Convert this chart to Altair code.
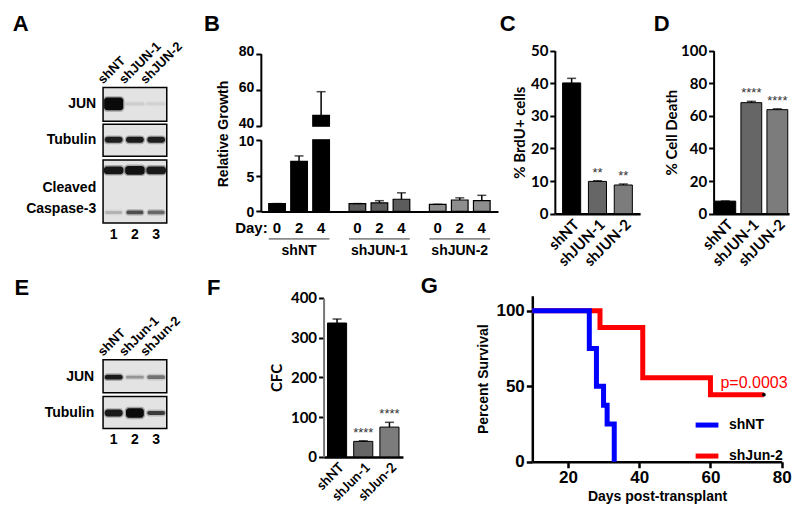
import altair as alt
import pandas as pd

W, H = 784, 498
SX, SY = W / 800.0, H / 514.0


def X(p):
    return round(p * SX, 2)


def Y(p):
    return round(p * SY, 2)


ARIAL = "Liberation Sans"
CALI = "Lato"

# ---------------- data ----------------
# Panel A: western blot, band intensities (0-1) per lane
lanes = [1, 2, 3]
a_lane_labels = ["shNT", "shJUN-1", "shJUN-2"]
a_jun = [1.0, 0.08, 0.06]
a_tubulin = [0.88, 0.9, 0.88]
a_caspase_full = [0.92, 0.96, 0.9]
a_caspase_cleaved = [0.18, 0.62, 0.5]

# Panel B: relative growth
b_groups = ["shNT", "shJUN-1", "shJUN-2"]
b_days = ["0", "2", "4"]
b_growth_shNT = [1.1, 7.0, 46.0]
b_growth_shJUN1 = [1.1, 1.2, 1.7]
b_growth_shJUN2 = [1.0, 1.6, 1.5]
b_err_shNT = [1.1, 7.75, 59.0]
b_err_shJUN1 = [1.1, 1.5, 2.6]
b_err_shJUN2 = [1.0, 1.9, 2.25]

# Panel C: % BrdU+ cells
c_groups = ["shNT", "shJUN-1", "shJUN-2"]
c_brdu = [40.1, 9.9, 8.8]
c_brdu_err = [41.5, 10.1, 9.1]
c_sig = ["", "**", "**"]

# Panel D: % cell death
d_groups = ["shNT", "shJUN-1", "shJUN-2"]
d_death = [7.7, 68.1, 63.8]
d_death_err = [7.8, 68.9, 64.3]
d_sig = ["", "****", "****"]

# Panel E: western blot
e_lane_labels = ["shNT", "shJun-1", "shJun-2"]
e_jun = [0.9, 0.3, 0.45]
e_tubulin = [0.9, 1.0, 0.72]

# Panel F: CFC
f_groups = ["shNT", "shJun-1", "shJun-2"]
f_cfc = [337, 39, 75]
f_cfc_err = [347, 40.5, 87]
f_sig = ["", "****", "****"]

# Panel G: Kaplan-Meier survival
g_groups = ["shNT", "shJun-2"]
g_shNT_days = [0, 26, 28, 30, 31, 33]
g_shNT_surv = [100, 75, 50, 37.5, 25, 0]
g_shJun2_days = [0, 29, 41, 60, 75]
g_shJun2_surv = [100, 88.9, 55.6, 44.4, 44.4]
g_censor_days = [75]
g_censor_surv = [44.4]
g_pvalue = "p=0.0003"

# ---------------- layout (reference pixel geometry) ----------------
BLOT_A = {
    "x": (97, 162), "y": (82, 222),
    "boxes": [(82, 117), (120, 153), (157, 222)],
    "row_labels": ["JUN", "Tubulin", "Cleaved\nCaspase-3"],
    "label_y": [99.5, 136.5, 186], "label_right": 90,
    "lane_label_y": 79, "lane_num_y": 234,
    "bands": [(99, 0.45, [13, 3, 3]), (136, 0.42, [6, 6, 6]),
              (167.5, 0.46, [8, 9, 8]), (211, 0.4, [3, 4, 4])],
}
BLOT_E = {
    "x": (97, 162), "y": (363, 434),
    "boxes": [(363, 397), (401, 434)],
    "row_labels": ["JUN", "Tubulin"],
    "label_y": [381, 418], "label_right": 88,
    "lane_label_y": 360, "lane_num_y": 446,
    "bands": [(381, 0.42, [5, 3, 4]), (418, 0.42, [7, 10, 4])],
}


def text_at(txt, x, y, size=14, weight="bold", color="black", align="center",
            baseline="middle", angle=None, font=ARIAL):
    kw = dict(font=font, fontSize=size, fontWeight=weight, color=color,
              align=align, baseline=baseline)
    if angle is not None:
        kw["angle"] = angle
    return alt.Chart(pd.DataFrame({"t": [txt]})).mark_text(**kw).encode(
        text="t:N", x=alt.value(X(x)), y=alt.value(Y(y)))


def blot(layout, intens, lane_labels):
    x0, x1 = layout["x"]
    yt, yb = layout["y"]
    lo, hi = min(lanes) - 0.5, max(lanes) + 0.5
    xs = alt.Scale(domain=[lo, hi], range=[X(x0), X(x1)], nice=False, zero=False)
    ys = alt.Scale(domain=[yt, yb], range=[Y(yt), Y(yb)], nice=False, zero=False)

    box_df = pd.DataFrame({"top": [b[0] for b in layout["boxes"]],
                           "bot": [b[1] for b in layout["boxes"]],
                           "l0": lo, "l1": hi})
    boxes = alt.Chart(box_df).mark_rect(fill="#e3e3e3", stroke="black", strokeWidth=1.5).encode(
        x=alt.X("l0:Q", scale=xs, axis=None), x2="l1:Q",
        y=alt.Y("top:Q", scale=ys, axis=None), y2="bot:Q")

    rows = []
    for (yc, hw, thick), vals in zip(layout["bands"], intens):
        for ln, v, t in zip(lanes, vals, thick):
            rows.append(dict(lane=ln, v=v, yc=yc, hw=hw, t=t))
    band_df = pd.DataFrame(rows)
    halo = alt.Chart(band_df).transform_calculate(
        a="datum.lane - datum.hw - 0.06", b="datum.lane + datum.hw + 0.06",
        c="datum.yc - datum.t / 2 - 1.5", d="datum.yc + datum.t / 2 + 1.5",
        o="datum.v * 0.3",
    ).mark_rect(fill="#111111", cornerRadius=4).encode(
        x=alt.X("a:Q", scale=xs, axis=None), x2="b:Q",
        y=alt.Y("c:Q", scale=ys, axis=None), y2="d:Q",
        opacity=alt.Opacity("o:Q", scale=None))
    core = alt.Chart(band_df).transform_calculate(
        a="datum.lane - datum.hw", b="datum.lane + datum.hw",
        c="datum.yc - datum.t / 2", d="datum.yc + datum.t / 2",
    ).mark_rect(fill="#0a0a0a", cornerRadius=3).encode(
        x=alt.X("a:Q", scale=xs, axis=None), x2="b:Q",
        y=alt.Y("c:Q", scale=ys, axis=None), y2="d:Q",
        opacity=alt.Opacity("v:Q", scale=None))

    lab_df = pd.DataFrame({"label": layout["row_labels"], "y": layout["label_y"]})
    row_lab = alt.Chart(lab_df).mark_text(
        font=ARIAL, fontSize=14, fontWeight="bold", align="right", baseline="middle",
        lineBreak="\n", lineHeight=21, color="black").encode(
        x=alt.value(X(layout["label_right"])),
        y=alt.Y("y:Q", scale=ys, axis=None), text="label:N")

    lane_df = pd.DataFrame({"lane": lanes, "name": lane_labels})
    lane_lab = alt.Chart(lane_df).transform_calculate(ax="datum.lane - 0.5").mark_text(
        font=ARIAL, fontSize=13, fontWeight="bold", align="left", baseline="alphabetic",
        angle=315, color="black").encode(
        x=alt.X("ax:Q", scale=xs, axis=None), y=alt.value(Y(layout["lane_label_y"])),
        text="name:N")
    lane_num = alt.Chart(lane_df).mark_text(
        font=ARIAL, fontSize=14, fontWeight="bold", baseline="middle", color="black").encode(
        x=alt.X("lane:Q", scale=xs, axis=None), y=alt.value(Y(layout["lane_num_y"])),
        text="lane:N")
    return alt.layer(boxes, halo, core, row_lab, lane_lab, lane_num)


# ---------------- Panel B ----------------
b_rows = []
for g, ms, us in zip(b_groups, [b_growth_shNT, b_growth_shJUN1, b_growth_shJUN2],
                     [b_err_shNT, b_err_shJUN1, b_err_shJUN2]):
    for d, m, u in zip(b_days, ms, us):
        b_rows.append({"group": g, "day": d, "mean": m, "upper": u})
b_df = pd.DataFrame(b_rows)
b_grp_df = pd.DataFrame({"group": b_groups})

bxs = alt.Scale(domain=b_groups, range=[X(258), X(500)], paddingInner=0.244, paddingOuter=0.098)
bx_axis = alt.Axis(orient="bottom", offset=-(H - Y(210)), labels=False, ticks=False,
                   domainColor="black", domainWidth=2, title=None, grid=False)
bx = alt.X("group:N", scale=bxs, axis=bx_axis)
bxo = alt.XOffset("day:N", scale=alt.Scale(domain=b_days, paddingInner=0.244, paddingOuter=0))
bfill = alt.Fill("group:N", scale=alt.Scale(domain=b_groups, range=["#000000", "#5c5c5c", "#8e8e8e"]),
                 legend=None)
y_up = alt.Scale(domain=[40, 80], range=[Y(122), Y(47)], nice=False, zero=False)
y_lo = alt.Scale(domain=[0, 10], range=[Y(210), Y(136)], nice=False)


def b_yaxis(vals, loff):
    return alt.Axis(orient="left", offset=-X(258), values=vals, tickSize=5, tickWidth=2,
                    domainWidth=2, domainColor="black", labelFont=ARIAL, labelFontSize=14,
                    labelFontWeight="bold", labelPadding=2, labelOffset=loff, title=None,
                    grid=False)


up_axis = b_yaxis([40, 60, 80], -2.5)
lo_axis = b_yaxis([0, 5, 10], 1.5)

up_bars = alt.Chart(b_df).transform_filter("datum.mean > 40").mark_bar(
    stroke="black", strokeWidth=1.2).encode(
    x=bx, xOffset=bxo, fill=bfill,
    y=alt.Y("mean:Q", scale=y_up, axis=up_axis), y2=alt.datum(40))
up_rule = alt.Chart(b_df).transform_filter("datum.mean > 40").mark_rule(
    color="black", strokeWidth=1.5).encode(
    x=bx, xOffset=bxo, y=alt.Y("mean:Q", scale=y_up, axis=up_axis), y2="upper:Q")
up_cap = alt.Chart(b_df).transform_filter("datum.mean > 40").mark_tick(
    color="black", thickness=1.5, size=9, orient="horizontal").encode(
    x=bx, xOffset=bxo, y=alt.Y("upper:Q", scale=y_up, axis=up_axis))
b_upper_layer = alt.layer(up_bars, up_rule, up_cap)

lo_bars = alt.Chart(b_df).transform_calculate(top="min(datum.mean, 10)").mark_bar(
    stroke="black", strokeWidth=1.2).encode(
    x=bx, xOffset=bxo, fill=bfill,
    y=alt.Y("top:Q", scale=y_lo, axis=lo_axis))
lo_rule = alt.Chart(b_df).transform_filter("datum.upper <= 10").mark_rule(
    color="black", strokeWidth=1.5).encode(
    x=bx, xOffset=bxo, y=alt.Y("mean:Q", scale=y_lo, axis=lo_axis), y2="upper:Q")
lo_cap = alt.Chart(b_df).transform_filter("datum.upper <= 10").mark_tick(
    color="black", thickness=1.5, size=9, orient="horizontal").encode(
    x=bx, xOffset=bxo, y=alt.Y("upper:Q", scale=y_lo, axis=lo_axis))
day_lab = alt.Chart(b_df).mark_text(
    font=ARIAL, fontSize=15, fontWeight="bold", baseline="middle", color="black").encode(
    x=bx, xOffset=bxo, y=alt.value(Y(227)), text="day:N")
underline = alt.Chart(b_grp_df).mark_bar(color="#8a8a8a").encode(
    x=bx, y=alt.value(Y(237.3)), y2=alt.value(Y(239.3)))
grp_lab = alt.Chart(b_grp_df).mark_text(
    font=ARIAL, fontSize=14, fontWeight="bold", baseline="middle", color="black").encode(
    x=bx, y=alt.value(Y(251)), text="group:N")
b_lower_layer = alt.layer(lo_bars, lo_rule, lo_cap, day_lab, underline, grp_lab)

panel_b = alt.layer(b_upper_layer, b_lower_layer).resolve_scale(y="independent")


# ---------------- bar panels C, D, F ----------------
def bar_panel(groups, means, uppers, sig, x0, x1, y0, y1, ydom, yvals, colors,
              ytitle, title_pad, pi, po, ydomain_color="black", xlab_size=15):
    df = pd.DataFrame({"group": groups, "mean": means, "upper": uppers, "sig": sig})
    xs = alt.Scale(domain=groups, range=[X(x0), X(x1)], paddingInner=pi, paddingOuter=po)
    ys = alt.Scale(domain=ydom, range=[Y(y0), Y(y1)], nice=False)
    xaxis = alt.Axis(orient="bottom", offset=-(H - Y(y0)), labelAngle=315, labelAlign="right",
                     labelBaseline="top", ticks=False, labelPadding=3, labelFont=CALI,
                     labelFontSize=xlab_size, labelFontWeight="bold", domainColor="black",
                     domainWidth=2.5, title=None, labelOverlap=False, grid=False)
    yaxis = alt.Axis(orient="left", offset=-X(x0), values=yvals, tickSize=5, tickWidth=2,
                     domainColor=ydomain_color, domainWidth=2, labelFont=CALI,
                     labelFontSize=15, labelFontWeight="bold", labelPadding=2, title=ytitle,
                     titleFont=CALI, titleFontSize=15, titleFontWeight="bold",
                     titlePadding=title_pad, grid=False)
    xe = alt.X("group:N", scale=xs, axis=xaxis)
    bars = alt.Chart(df).mark_bar(stroke="black", strokeWidth=1).encode(
        x=xe,
        y=alt.Y("mean:Q", scale=ys, axis=yaxis),
        fill=alt.Fill("group:N", scale=alt.Scale(domain=groups, range=colors), legend=None))
    rule = alt.Chart(df).mark_rule(color="black", strokeWidth=1.5).encode(
        x=xe, y=alt.Y("mean:Q", scale=ys, axis=yaxis), y2="upper:Q")
    cap = alt.Chart(df).mark_tick(color="black", thickness=1.5, size=9, orient="horizontal").encode(
        x=xe, y=alt.Y("upper:Q", scale=ys, axis=yaxis))
    stars = alt.Chart(df).mark_text(font=ARIAL, fontSize=13, baseline="alphabetic", dy=-4,
                                    color="#333333").encode(
        x=xe, y=alt.Y("upper:Q", scale=ys, axis=yaxis), text="sig:N")
    return alt.layer(bars, rule, cap, stars)


bar_cols = ["#000000", "#666666", "#7c7c7c"]
panel_c = bar_panel(c_groups, c_brdu, c_brdu_err, c_sig, 558, 645, 212.3, 44, [0, 50],
                    [0, 10, 20, 30, 40, 50], bar_cols, "% BrdU+ cells", 3, 0.3, 0.3)
panel_d = bar_panel(d_groups, d_death, d_death_err, d_sig, 720, 797, 212.3, 44, [0, 100],
                    [0, 20, 40, 60, 80, 100], bar_cols, "% Cell Death", 1, 0.2, 0.05)
panel_f = bar_panel(f_groups, f_cfc, f_cfc_err, f_sig, 322, 403, 463.3, 299.3, [0, 400],
                    [0, 100, 200, 300, 400], bar_cols, "CFC", 6, 0.27, 0.15,
                    ydomain_color="#777777", xlab_size=13.5)

# ---------------- Panel G ----------------
km_nt = pd.DataFrame({"group": "shNT", "day": g_shNT_days, "surv": g_shNT_surv})
km_j2 = pd.DataFrame({"group": "shJun-2", "day": g_shJun2_days, "surv": g_shJun2_surv})
cens = pd.DataFrame({"day": g_censor_days, "surv": g_censor_surv})

gxs = alt.Scale(domain=[10, 80], range=[X(535), X(789.5)], nice=False, zero=False, clamp=True)
gys = alt.Scale(domain=[0, 110], range=[Y(468.3), Y(297)], nice=False)
gstroke = alt.Scale(domain=g_groups, range=["#0000ff", "#ff0000"])
gx_axis = alt.Axis(orient="bottom", offset=-(H - Y(468.3)), values=[20, 40, 60, 80], tickSize=6,
                   tickWidth=2.5, domainWidth=2.5, domainColor="black", labelFont=ARIAL,
                   labelFontSize=17, labelFontWeight="bold", labelFlush=False, labelPadding=2,
                   title="Days post-transplant", titleFont=ARIAL, titleFontSize=14,
                   titleFontWeight="bold", titlePadding=4, grid=False)
gy_axis = alt.Axis(orient="left", offset=-X(535), values=[0, 50, 100], tickSize=6, tickWidth=2.5,
                   domainWidth=2.5, domainColor="black", labelFont=ARIAL, labelFontSize=17,
                   labelFontWeight="bold", labelPadding=2, title="Percent Survival",
                   titleFont=ARIAL, titleFontSize=14, titleFontWeight="bold", titlePadding=5,
                   grid=False)
g_legend = alt.Legend(orient="none", legendX=X(699), legendY=Y(416), title=None,
                      symbolType="stroke", symbolStrokeWidth=5, symbolSize=520,
                      labelFont=ARIAL, labelFontSize=14, labelFontWeight="bold",
                      labelColor="black", rowPadding=7, labelOffset=8, padding=0)
gx = alt.X("day:Q", scale=gxs, axis=gx_axis)
gy = alt.Y("surv:Q", scale=gys, axis=gy_axis)

line_red = alt.Chart(km_j2).mark_line(interpolate="step-after", strokeWidth=5).encode(
    x=gx, y=gy, stroke=alt.Stroke("group:N", scale=gstroke, legend=g_legend))
line_blue = alt.Chart(km_nt).mark_line(interpolate="step-after", strokeWidth=5).encode(
    x=gx, y=gy, stroke=alt.Stroke("group:N", scale=gstroke, legend=g_legend))
cens_pts = alt.Chart(cens).mark_point(filled=True, color="black", size=14, opacity=1).encode(
    x=gx, y=gy)
panel_g = alt.layer(line_red, line_blue, cens_pts)

# ---------------- annotations ----------------
annotations = [
    text_at("A", 13, 24, size=22, baseline="alphabetic"),
    text_at("B", 208, 24, size=22, baseline="alphabetic"),
    text_at("C", 510, 24, size=22, baseline="alphabetic"),
    text_at("D", 667, 24, size=22, baseline="alphabetic"),
    text_at("E", 14, 296, size=22, baseline="alphabetic"),
    text_at("F", 210, 296, size=22, baseline="alphabetic"),
    text_at("G", 430, 294, size=22, baseline="alphabetic"),
    text_at("Relative Growth", 220, 130, size=14, angle=270),
    text_at("Day:", 265, 227, size=15, align="right"),
    text_at(g_pvalue, 727, 392, size=16, weight="normal", color="#ff0000",
            align="left", baseline="alphabetic"),
]

panel_a = blot(BLOT_A, [a_jun, a_tubulin, a_caspase_full, a_caspase_cleaved], a_lane_labels)
panel_e = blot(BLOT_E, [e_jun, e_tubulin], e_lane_labels)

chart = alt.layer(
    panel_a, panel_b, panel_c, panel_d, panel_e, panel_f, panel_g, *annotations
).resolve_scale(
    x="independent", y="independent", fill="independent", stroke="independent",
    xOffset="independent"
).properties(
    width=W, height=H, padding=0, autosize=alt.AutoSizeParams(type="none")
).configure_view(stroke=None).configure_axis(
    labelColor="black", titleColor="black", tickColor="black", grid=False
)

chart.save("out.html", embed_options={"renderer": "svg", "actions": False})
